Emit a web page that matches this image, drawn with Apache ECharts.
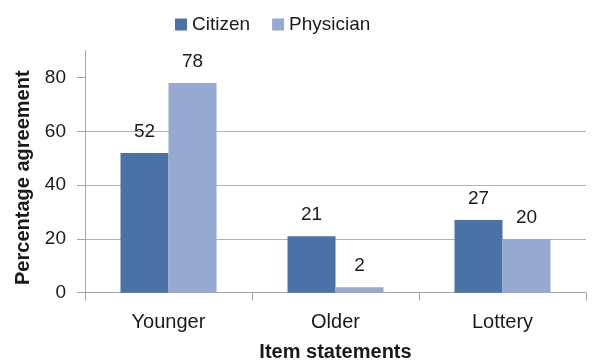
<!DOCTYPE html>
<html>
<head>
<meta charset="utf-8">
<script src="https://cdn.jsdelivr.net/npm/echarts@6/dist/echarts.min.js"></script>
<style>
  html, body { margin: 0; padding: 0; background: #fff; }
  #chart { width: 593px; height: 364px; }
</style>
</head>
<body>
<div id="chart"></div>
<script>
// Share of respondents agreeing with each allocation statement
const categories = ['Younger', 'Older', 'Lottery'];
const citizen = [52, 21, 27];
const physician = [78, 2, 20];
const yTicks = [0, 20, 40, 60, 80];

const FONT = '"Liberation Sans", Arial, sans-serif';
const chart = echarts.init(document.getElementById('chart'), null, { renderer: 'canvas' });

const labelStyle = {
  show: true,
  position: 'top',
  distance: 12,
  color: '#1a1a1a',
  fontSize: 19,
  fontFamily: FONT
};

chart.setOption({
  animation: false,
  textStyle: { fontFamily: FONT },
  legend: {
    top: 10,
    left: 170,
    itemWidth: 12,
    itemHeight: 12,
    itemGap: 22,
    icon: 'rect',
    textStyle: { fontSize: 19, color: '#1a1a1a', fontFamily: FONT }
  },
  grid: {
    left: 85, right: 7, top: 50.7, bottom: 71.3,
    containLabel: false,
    outerBoundsMode: 'none'
  },
  xAxis: {
    type: 'category',
    data: categories,
    name: 'Item statements',
    nameLocation: 'middle',
    nameGap: 50,
    nameTextStyle: { fontSize: 20, fontWeight: 'bold', color: '#1a1a1a', fontFamily: FONT },
    axisLine: { lineStyle: { color: '#a6a6a6', width: 1 } },
    axisTick: { show: true, length: 8, lineStyle: { color: '#a6a6a6' } },
    axisLabel: { fontSize: 20, color: '#1a1a1a', margin: 20, fontFamily: FONT }
  },
  yAxis: {
    type: 'value',
    min: 0,
    max: 90,
    interval: 20,
    name: 'Percentage agreement',
    nameLocation: 'middle',
    nameGap: 52,
    nameTextStyle: {
      fontSize: 20, fontWeight: 'bold', color: '#1a1a1a', fontFamily: FONT,
      padding: [0, 12, 0, 0]
    },
    axisLine: { show: true, lineStyle: { color: '#a6a6a6', width: 1 } },
    axisTick: { show: true, length: 8, customValues: yTicks, lineStyle: { color: '#a6a6a6' } },
    axisLabel: { fontSize: 19, color: '#1a1a1a', margin: 19, customValues: yTicks, fontFamily: FONT },
    splitLine: { show: true, showMaxLine: false, lineStyle: { color: '#b3b3b3', width: 1 } }
  },
  series: [
    {
      name: 'Citizen',
      type: 'bar',
      data: citizen,
      barGap: '0%',
      barCategoryGap: '42.5%',
      itemStyle: { color: '#4a72a6' },
      label: labelStyle
    },
    {
      name: 'Physician',
      type: 'bar',
      data: physician,
      itemStyle: { color: '#95a9d1' },
      label: labelStyle
    }
  ]
});
</script>
</body>
</html>
